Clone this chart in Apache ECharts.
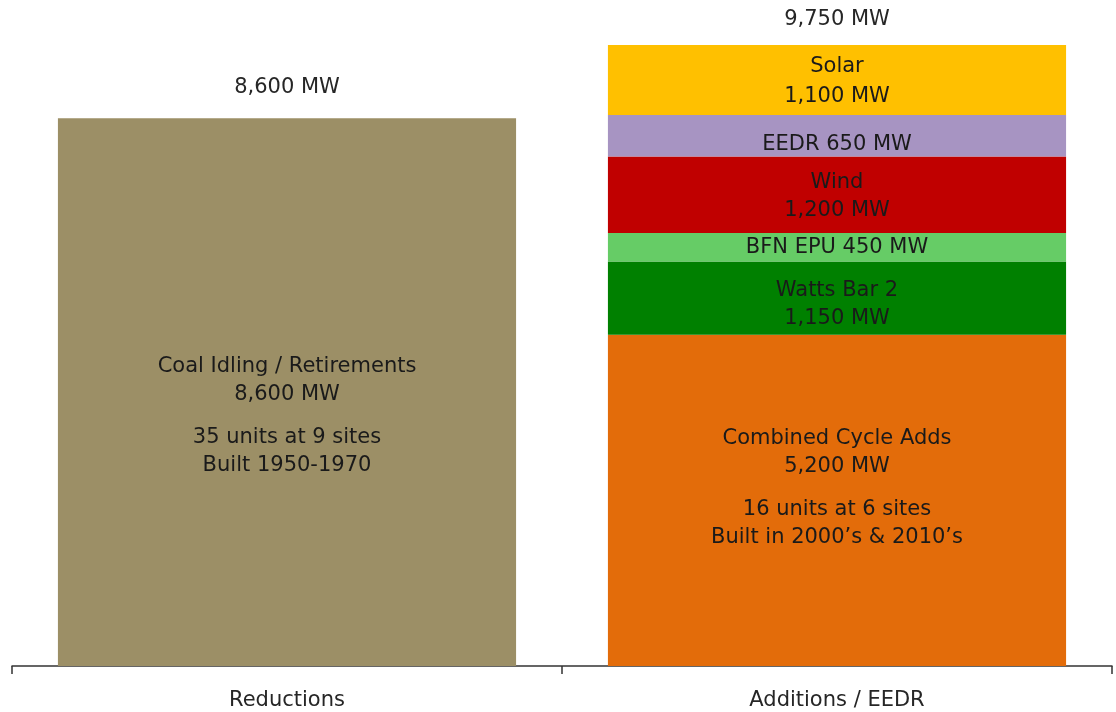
<!DOCTYPE html>
<html lang="en">
<head>
	<meta charset="UTF-8">
	<title>Reductions vs Additions</title>
	<style>
		html,body{margin:0;padding:0;background:#fff;}
		#main{width:1116px;height:712px;}
	</style>
</head>
<body>
	<div id="main"></div>
	<script src="https://cdn.jsdelivr.net/npm/echarts@6/dist/echarts.min.js"></script>
	<script>
		// categories on the x axis
		var categories = ['Reductions', 'Additions / EEDR'];

		// stacked segments, bottom to top (MW)
		var coal     = [8600, '-'];
		var combined = ['-', 5200];
		var watts    = ['-', 1150];
		var bfn      = ['-', 450];
		var wind     = ['-', 1200];
		var eedr     = ['-', 650];
		var solar    = ['-', 1100];

		var segNames  = ['Coal Idling / Retirements', 'Combined Cycle Adds', 'Watts Bar 2', 'BFN EPU', 'Wind', 'EEDR', 'Solar'];
		var segColors = ['#9c8f66', '#e36c0a', '#008000', '#66cc66', '#c00000', '#a794c2', '#ffc000'];
		var coalNote     = ['35 units at 9 sites', 'Built 1950-1970'];
		var combinedNote = ['16 units at 6 sites', 'Built in 2000\u2019s & 2010\u2019s'];

		function fmt(v){ return Number(v).toLocaleString('en-US') + ' MW'; }
		function num(v){ return v === '-' ? 0 : v; }

		var totals = [];
		var all = [coal, combined, watts, bfn, wind, eedr, solar];
		for (var i = 0; i < categories.length; i++) {
			var s = 0;
			for (var j = 0; j < all.length; j++) s += num(all[j][i]);
			totals.push(s);
		}

		var txt = '#1a1a1a';
		var fontFam = 'DejaVu Sans';
		var fs = 21;
		var rich = {
			a: {fontSize: fs, lineHeight: 28, color: txt, fontFamily: fontFam},
			g: {fontSize: 10, lineHeight: 15}
		};

		function seg(idx, data, formatter, offset, lh){
			return {
				name: segNames[idx],
				type: 'bar',
				stack: 'mw',
				data: data,
				barWidth: '83.3%',
				itemStyle: {color: segColors[idx]},
				label: {
					show: true,
					position: 'inside',
					offset: offset,
					formatter: formatter,
					color: txt,
					fontSize: fs,
					fontFamily: fontFam,
					lineHeight: lh || 28,
					rich: rich
				}
			};
		}

		var series = [
			seg(0, coal, function(p){
				return '{a|' + segNames[0] + '}\n{a|' + fmt(p.value) + '}\n{g| }\n{a|' + coalNote[0] + '}\n{a|' + coalNote[1] + '}';
			}, [0, 24]),
			seg(1, combined, function(p){
				return '{a|' + segNames[1] + '}\n{a|' + fmt(p.value) + '}\n{g| }\n{a|' + combinedNote[0] + '}\n{a|' + combinedNote[1] + '}';
			}, [0, -12]),
			seg(2, watts, function(p){ return segNames[2] + '\n' + fmt(p.value); }, [0, 6]),
			seg(3, bfn, function(p){ return segNames[3] + ' ' + fmt(p.value); }, [0, 0]),
			seg(4, wind, function(p){ return segNames[4] + '\n' + fmt(p.value); }, [0, 2]),
			seg(5, eedr, function(p){ return segNames[5] + ' ' + fmt(p.value); }, [0, 9]),
			seg(6, solar, function(p){ return segNames[6] + '\n' + fmt(p.value); }, [0, 2], 30),
			{
				name: 'Total',
				type: 'bar',
				stack: 'mw',
				barWidth: '83.3%',
				data: [
					{value: 0, label: {distance: 20}},
					{value: 0, label: {distance: 15}}
				],
				itemStyle: {color: 'transparent'},
				label: {
					show: true,
					position: 'top',
					color: '#262626',
					fontSize: fs,
					fontFamily: fontFam,
					formatter: function(p){ return fmt(totals[p.dataIndex]); }
				}
			}
		];

		var myChart = echarts.init(document.getElementById('main'));
		var option = {
			animation: false,
			backgroundColor: '#fff',
			grid: {left: 12, right: 4, top: 45, bottom: 46},
			xAxis: {
				type: 'category',
				data: categories,
				axisLine: {lineStyle: {color: '#333', width: 1.5}},
				axisTick: {show: true, length: 8, lineStyle: {color: '#333', width: 1.5}},
				axisLabel: {color: '#262626', fontSize: fs, fontFamily: fontFam, margin: 24}
			},
			yAxis: {
				type: 'value',
				min: 0,
				max: 9750,
				show: false,
				splitLine: {show: false}
			},
			series: series
		};
		myChart.setOption(option);
	</script>
</body>
</html>
